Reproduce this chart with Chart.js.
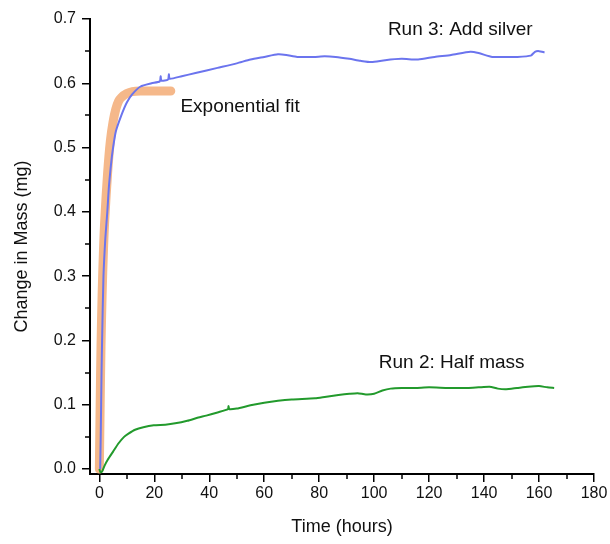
<!DOCTYPE html>
<html>
<head>
<meta charset="utf-8">
<script src="https://cdn.jsdelivr.net/npm/chart.js@4.4.1/dist/chart.umd.min.js"></script>
<style>
  html, body { margin: 0; padding: 0; background: #fff; }
  #wrap { width: 610px; height: 544px; }
</style>
</head>
<body>
<div id="wrap"><canvas id="myChart" width="610" height="544"></canvas></div>
<script>
// Run 3: Add silver (blue)
var run3Time = [0.3, 0.5, 0.8, 1.0, 1.5, 2.2, 2.9, 3.5, 4.4, 5, 6, 8, 10, 12, 15, 19, 22, 22.3, 22.6, 25, 25.3, 25.6, 30, 35, 43, 50, 55, 60, 65, 68, 72, 78, 82, 86, 91, 95, 99, 104, 110, 116, 122, 128, 135, 138, 143, 148, 152, 157, 158.5, 160, 162];
var run3Mass = [0.0, 0.05, 0.15, 0.2, 0.3, 0.36, 0.4, 0.44, 0.48, 0.5, 0.525, 0.55, 0.57, 0.583, 0.595, 0.600, 0.603, 0.611, 0.604, 0.606, 0.614, 0.607, 0.611, 0.616, 0.624, 0.631, 0.637, 0.641, 0.645, 0.644, 0.641, 0.641, 0.642, 0.641, 0.638, 0.635, 0.633, 0.636, 0.638, 0.637, 0.641, 0.644, 0.649, 0.647, 0.641, 0.641, 0.641, 0.643, 0.649, 0.650, 0.648];

// Exponential fit (orange)
var fitTime = [0, 0.3, 0.6, 1, 1.5, 2, 3, 4, 5, 6, 7, 8, 10, 12, 15, 20, 26];
var fitMass = [0.0, 0.1, 0.19, 0.27, 0.34, 0.39, 0.46, 0.51, 0.54, 0.56, 0.572, 0.578, 0.584, 0.587, 0.588, 0.588, 0.588];

// Run 2: Half mass (green)
var run2Time = [0, 0.4, 1, 2, 3, 5, 7, 9, 10.6, 13, 16, 19.8, 24, 27.6, 32, 36, 38.9, 43, 46.8, 47, 47.3, 50, 55, 60, 65, 70, 78.5, 82, 87, 91, 94, 97, 100, 103, 106, 110, 115, 120, 127, 134, 138, 142, 145, 148, 152, 156, 160, 163, 165.5];
var run2Mass = [0.0, -0.005, -0.004, 0.006, 0.014, 0.027, 0.040, 0.050, 0.055, 0.061, 0.065, 0.068, 0.069, 0.071, 0.075, 0.080, 0.083, 0.088, 0.093, 0.098, 0.093, 0.094, 0.099, 0.103, 0.106, 0.108, 0.110, 0.112, 0.115, 0.117, 0.118, 0.116, 0.117, 0.122, 0.125, 0.126, 0.126, 0.127, 0.126, 0.126, 0.127, 0.128, 0.125, 0.124, 0.126, 0.128, 0.129, 0.127, 0.126];

// text labels (text, time, mass)
var labelText = ["Run 3: Add silver", "Exponential fit", "Run 2: Half mass"];
var labelTime = [105, 29.5, 101.7];
var labelMass = [0.683, 0.563, 0.165];

var xMinorTicks = [10, 30, 50, 70, 90, 110, 130, 150, 170];
var yMinorTicks = [0.05, 0.15, 0.25, 0.35, 0.45, 0.55, 0.65];

function pts(xs, ys) {
    var out = [];
    for (var i = 0; i < xs.length; i++) {
        out.push({ x: xs[i], y: ys[i] });
    }
    return out;
}

var FONT = "'Liberation Sans', Arial, sans-serif";

// minor tick marks + text labels
var extrasPlugin = {
    id: 'extras',
    afterDraw: function (chart) {
        var ctx = chart.ctx;
        var xs = chart.scales.x, ys = chart.scales.y;
        var area = chart.chartArea;
        ctx.save();
        ctx.strokeStyle = '#000';
        ctx.lineWidth = 1.5;
        xMinorTicks.forEach(function (v) {
            var px = Math.round(xs.getPixelForValue(v));
            ctx.beginPath();
            ctx.moveTo(px, area.bottom);
            ctx.lineTo(px, area.bottom + 5);
            ctx.stroke();
        });
        yMinorTicks.forEach(function (v) {
            var py = Math.round(ys.getPixelForValue(v));
            ctx.beginPath();
            ctx.moveTo(area.left, py);
            ctx.lineTo(area.left - 5, py);
            ctx.stroke();
        });
        ctx.fillStyle = '#111';
        ctx.font = '19px ' + FONT;
        ctx.textAlign = 'left';
        ctx.textBaseline = 'middle';
        for (var i = 0; i < labelText.length; i++) {
            ctx.fillText(labelText[i], xs.getPixelForValue(labelTime[i]), ys.getPixelForValue(labelMass[i]));
        }
        ctx.restore();
    }
};

var ctx = document.getElementById('myChart');
var myChart = new Chart(ctx, {
    type: 'scatter',
    data: {
        datasets: [
            {
                label: 'Run 3: Add silver',
                data: pts(run3Time, run3Mass),
                showLine: true,
                borderColor: '#6b74ee',
                borderWidth: 2,
                pointRadius: 0,
                tension: 0.2
            },
            {
                label: 'Run 2: Half mass',
                data: pts(run2Time, run2Mass),
                showLine: true,
                borderColor: '#229a2c',
                borderWidth: 2,
                pointRadius: 0,
                tension: 0.2
            },
            {
                label: 'Exponential fit',
                data: pts(fitTime, fitMass),
                showLine: true,
                borderColor: '#f5b88a',
                borderWidth: 9,
                borderCapStyle: 'round',
                borderJoinStyle: 'round',
                pointRadius: 0,
                tension: 0.3
            }
        ]
    },
    options: {
        responsive: false,
        animation: false,
        layout: { padding: { top: 19, right: 16, left: 0, bottom: 0 } },
        plugins: {
            legend: { display: false },
            tooltip: { enabled: false }
        },
        scales: {
            x: {
                type: 'linear',
                min: -3.4,
                max: 180,
                afterFit: function (s) { s.height = 70; },
                border: { display: true, color: '#000', width: 2 },
                grid: { drawOnChartArea: false, color: '#000', lineWidth: 1.5, tickLength: 8 },
                ticks: {
                    stepSize: 20,
                    includeBounds: false,
                    color: '#111',
                    font: { family: FONT, size: 16 },
                    padding: 2,
                    maxRotation: 0
                },
                title: {
                    display: true,
                    text: 'Time (hours)',
                    color: '#111',
                    font: { family: FONT, size: 18 },
                    padding: { top: 0, bottom: 6 }
                }
            },
            y: {
                min: -0.0078,
                max: 0.7,
                afterFit: function (s) { s.width = 90; },
                border: { display: true, color: '#000', width: 2 },
                grid: { drawOnChartArea: false, color: '#000', lineWidth: 1.5, tickLength: 8 },
                ticks: {
                    stepSize: 0.1,
                    includeBounds: false,
                    color: '#111',
                    font: { family: FONT, size: 16 },
                    padding: 6,
                    callback: function (v) { return v.toFixed(1); }
                },
                title: {
                    display: true,
                    text: 'Change in Mass (mg)',
                    color: '#111',
                    font: { family: FONT, size: 18 },
                    padding: { top: 11, bottom: 0 }
                }
            }
        }
    },
    plugins: [extrasPlugin]
});
</script>
</body>
</html>
